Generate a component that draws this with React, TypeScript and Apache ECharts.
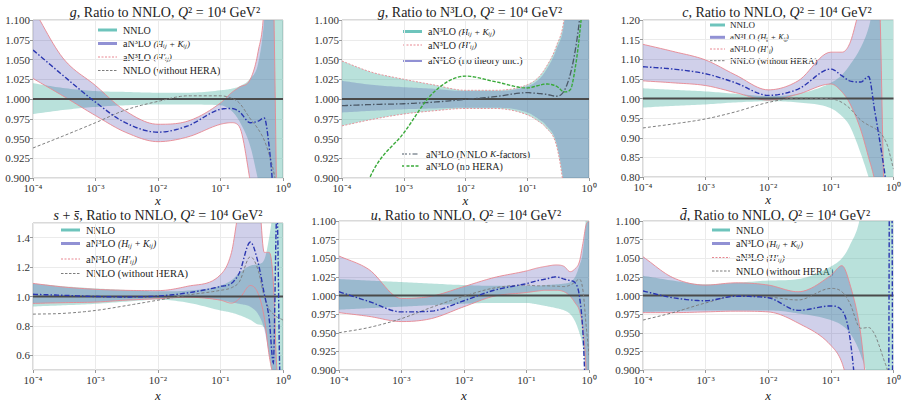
import React, { useEffect, useRef } from 'react';
import * as echarts from 'echarts';

const FONT = '"Liberation Serif", "Times New Roman", serif';

// shared x sample points (log scale)
const X = [1e-4, 3e-4, 1e-3, 3e-3, 1e-2, 3e-2, 0.1, 0.15, 0.2, 0.3, 0.4, 0.5, 0.6, 0.7, 0.8, 0.9, 1.0];
const xTickLabels = ['10⁻⁴', '10⁻³', '10⁻²', '10⁻¹', '10⁰'];
const REF_Y = 1;

// Panel 1: g, ratio to NNLO
const g1NnloLo = [0.981, 0.986, 0.990, 0.992, 0.993, 0.993, 0.992, 0.985, 0.972, 0.94, 0.897, 0.86, 0.8, 0.75, 0.7, 0.65, 0.6];
const g1NnloHi = [1.020, 1.014, 1.010, 1.009, 1.008, 1.008, 1.011, 1.013, 1.016, 1.026, 1.045, 1.1, 1.2, 1.3, 1.4, 1.5, 1.6];
const g1AnLo = [1.026, 1.004, 0.979, 0.958, 0.946, 0.952, 0.968, 0.970, 0.965, 0.895, 0.83, 0.76, 0.7, 0.65, 0.6, 0.55, 0.5];
const g1AnHi = [1.115, 1.052, 1.017, 0.985, 0.968, 0.972, 0.995, 1.008, 1.015, 1.025, 1.06, 1.12, 1.3, 1.15, 0.85, 0.6, 0.5];
const g1Cen = [1.062, 1.030, 0.996, 0.970, 0.958, 0.966, 0.987, 0.988, 0.984, 0.970, 0.972, 0.976, 0.94, 0.88, 0.8, 0.75, 0.7];
const g1NoHera = [0.938, 0.953, 0.970, 0.986, 0.997, 1.004, 1.004, 1.001, 0.995, 0.975, 0.962, 0.948, 0.93, 0.91, 0.885, 0.86, 0.83];

// Panel 2: g, ratio to N3LO
const g2HKLo = [0.966, 0.974, 0.981, 0.985, 0.988, 0.988, 0.980, 0.972, 0.964, 0.94, 0.88, 0.8, 0.7, 0.6, 0.5, 0.4, 0.3];
const g2HKHi = [1.048, 1.034, 1.025, 1.018, 1.011, 1.011, 1.018, 1.027, 1.040, 1.068, 1.105, 1.2, 1.3, 1.4, 1.5, 1.6, 1.7];
const g2NoThLo = [0.983, 0.985, 0.987, 0.988, 0.989, 0.989, 0.983, 0.975, 0.967, 0.943, 0.885, 0.8, 0.7, 0.6, 0.5, 0.4, 0.3];
const g2NoThHi = [1.023, 1.018, 1.015, 1.013, 1.010, 1.010, 1.016, 1.024, 1.036, 1.064, 1.1, 1.2, 1.3, 1.4, 1.5, 1.6, 1.7];
const g2KFac = [0.9915, 0.993, 0.994, 0.996, 0.9995, 1.003, 1.008, 1.007, 1.006, 1.0035, 1.011, 1.032, 1.062, 1.1, 1.15, 1.2, 1.3];
const g2NoHera = [0.80, 0.905, 0.957, 1.008, 1.029, 1.022, 1.014, 1.017, 1.019, 1.016, 1.009, 1.012, 1.04, 1.08, 1.13, 1.2, 1.3];

// Panel 3: c, ratio to NNLO
const c3NnloLo = [0.977, 0.981, 0.985, 0.990, 0.993, 0.990, 0.975, 0.955, 0.93, 0.86, 0.80, 0.75, 0.7, 0.6, 0.5, 0.4, 0.3];
const c3NnloHi = [1.026, 1.022, 1.018, 1.012, 1.006, 1.012, 1.04, 1.06, 1.085, 1.13, 1.18, 1.25, 1.3, 1.4, 1.5, 1.6, 1.7];
const c3AnLo = [1.045, 1.040, 1.033, 1.015, 0.996, 1.011, 1.037, 1.017, 0.988, 0.92, 0.85, 0.79, 0.7, 0.6, 0.5, 0.4, 0.3];
const c3AnHi = [1.138, 1.12, 1.098, 1.06, 1.022, 1.045, 1.118, 1.118, 1.14, 1.24, 1.3, 1.35, 1.25, 0.78, 0.6, 0.5, 0.4];
const c3Cen = [1.081, 1.075, 1.063, 1.04, 1.008, 1.024, 1.075, 1.058, 1.045, 1.042, 1.056, 0.97, 0.894, 0.826, 0.76, 0.7, 0.65];
const c3NoHera = [0.925, 0.935, 0.948, 0.966, 0.99, 1.001, 0.999, 0.99, 0.975, 0.945, 0.932, 0.924, 0.915, 0.9, 0.88, 0.85, 0.82];

// Panel 4: s + sbar, ratio to NNLO
const s4NnloLo = [0.932, 0.94, 0.95, 0.965, 0.978, 0.958, 0.905, 0.89, 0.873, 0.841, 0.81, 0.79, 0.6, 0.4, 0.3, 0.2, 0.1];
const s4NnloHi = [1.089, 1.07, 1.055, 1.045, 1.035, 1.04, 1.074, 1.11, 1.16, 1.21, 1.22, 1.25, 1.4, 1.6, 1.8, 2.0, 2.0];
const s4AnLo = [0.953, 0.958, 0.962, 0.975, 0.985, 0.995, 0.975, 0.96, 0.95, 0.93, 0.88, 0.78, 0.6, 0.45, 0.3, 0.2, 0.1];
const s4AnHi = [1.089, 1.065, 1.049, 1.042, 1.04, 1.07, 1.148, 1.3, 1.6, 1.7, 1.7, 1.3, 1.3, 1.1, 0.5, 0.4, 0.3];
const s4HpLo = [0.953, 0.958, 0.962, 0.975, 0.985, 0.995, 0.975, 0.955, 0.985, 1.075, 1.02, 0.86, 0.6, 0.45, 0.3, 0.2, 0.1];
const s4Cen = [1.015, 1.008, 1.0, 0.997, 1.003, 1.025, 1.068, 1.09, 1.16, 1.37, 1.23, 1.02, 0.85, 0.55, 1.6, 0.4, 0.3];
const s4NoHera = [0.88, 0.885, 0.905, 0.937, 0.975, 1.01, 1.042, 1.06, 1.1, 1.27, 1.18, 1.0, 0.915, 0.88, 0.86, 0.85, 0.84];

// Panel 5: u, ratio to NNLO
const u5NnloLo = [0.981, 0.983, 0.985, 0.987, 0.989, 0.99, 0.99, 0.988, 0.986, 0.983, 0.98, 0.975, 0.965, 0.95, 0.93, 0.88, 0.8];
const u5NnloHi = [1.022, 1.020, 1.018, 1.016, 1.014, 1.013, 1.013, 1.013, 1.014, 1.015, 1.016, 1.018, 1.025, 1.04, 1.06, 1.12, 1.3];
const u5AnLo = [0.977, 0.972, 0.965, 0.969, 0.985, 0.999, 1.004, 1.006, 1.007, 1.007, 1.005, 0.999, 0.99, 0.98, 0.955, 0.9, 0.8];
const u5AnHi = [1.053, 1.035, 0.996, 0.999, 1.012, 1.024, 1.033, 1.037, 1.039, 1.041, 1.039, 1.032, 1.036, 1.045, 1.07, 1.095, 1.1];
const u5Cen = [1.005, 0.992, 0.978, 0.979, 0.993, 1.007, 1.016, 1.02, 1.022, 1.025, 1.022, 1.02, 1.017, 1.0, 0.95, 0.85, 0.8];
const u5NoHera = [0.95, 0.957, 0.969, 0.984, 0.999, 1.01, 1.014, 1.013, 1.013, 1.0125, 1.012, 1.014, 1.018, 1.022, 1.007, 0.96, 0.92];

// Panel 6: dbar, ratio to NNLO
const d6NnloLo = [0.978, 0.979, 0.98, 0.98, 0.98, 0.976, 0.967, 0.96, 0.95, 0.92, 0.88, 0.8, 0.7, 0.6, 0.5, 0.4, 0.3];
const d6NnloHi = [1.0265, 1.02, 1.015, 1.017, 1.02, 1.022, 1.039, 1.05, 1.067, 1.11, 1.2, 1.3, 1.4, 1.5, 1.6, 1.7, 1.8];
const d6AnLo = [0.977, 0.977, 0.978, 0.979, 0.978, 0.963, 0.933, 0.91, 0.87, 0.8, 0.7, 0.6, 0.5, 0.4, 0.3, 0.2, 0.1];
const d6AnHi = [1.052, 1.024, 1.014, 1.017, 1.014, 1.005, 1.027, 1.04, 1.016, 0.948, 0.85, 0.8, 0.7, 0.6, 0.5, 0.4, 0.3];
const d6Cen = [1.006, 0.997, 0.993, 0.999, 0.997, 0.98, 0.986, 0.98, 0.945, 0.8, 0.7, 0.65, 0.6, 0.55, 0.5, 1.5, 0.5];
const d6NoHera = [0.967, 0.977, 0.99, 0.999, 0.998, 0.994, 1.0095, 1.005, 0.99, 0.956, 0.957, 0.948, 0.931, 0.914, 0.9, 0.88, 0.86];

// colours / styles
const TEAL = 'rgba(80,180,165,0.40)';
const PURPLE = 'rgba(50,50,165,0.23)';
const PINK = 'rgb(232,135,145)';
const BLUE = '#2a36b0';
const GRAY = '#7d7d7d';
const GREEN = '#3aaa3a';
const KGRAY = '#4b5866';

const SW: Record<string, any> = {
  teal: { stroke: 'rgb(110,196,188)', lineWidth: 3 },
  purple: { stroke: 'rgb(145,145,212)', lineWidth: 3 },
  pink: { stroke: PINK, lineWidth: 1, lineDash: [2, 1.5] },
  gray: { stroke: GRAY, lineWidth: 1, lineDash: [2.5, 1.5] },
  kgray: { stroke: KGRAY, lineWidth: 1.2, lineDash: [5, 2, 1.5, 2] },
  green: { stroke: GREEN, lineWidth: 1.3, lineDash: [3, 1.5] },
};

const L_NNLO = 'NNLO';
const L_HK = 'aN³LO {i|(Hᵢⱼ + Kᵢⱼ)}';
const L_HP = 'aN³LO {i|(H′ᵢⱼ)}';
const L_NOHERA = 'NNLO (without HERA)';

const stdLegend = (y: number[], x1: number, x2: number, tx: number, fs: number) => ({
  x1, x2, tx, fs,
  items: [
    { y: y[0], kind: 'teal', text: L_NNLO },
    { y: y[1], kind: 'purple', text: L_HK },
    { y: y[2], kind: 'pink', text: L_HP },
    { y: y[3], kind: 'gray', text: L_NOHERA },
  ],
});

const panels: any[] = [
  {
    grid: { left: 33, top: 20, width: 250, height: 158 }, nameGap: 15,
    y: { min: 0.9, max: 1.1, interval: 0.025, dec: 3 },
    title: { text: '{i|g}, Ratio to NNLO, {i|Q}² = 10⁴ GeV²', x: 165, y: 12 },
    bands: [[g1NnloLo, g1NnloHi, TEAL], [g1AnLo, g1AnHi, PURPLE]],
    edges: [g1AnLo, g1AnHi],
    lines: [[g1NoHera, GRAY, 1, [3, 2]], [g1Cen, BLUE, 1.4, [5, 2, 1.5, 2]]],
    legends: [stdLegend([30, 43.5, 57, 70.5], 98, 117, 123, 10)],
  },
  {
    grid: { left: 342, top: 20, width: 247, height: 158 }, nameGap: 15,
    y: { min: 0.9, max: 1.1, interval: 0.025, dec: 3 },
    title: { text: '{i|g}, Ratio to N³LO, {i|Q}² = 10⁴ GeV²', x: 470, y: 12 },
    bands: [[g2HKLo, g2HKHi, TEAL], [g2NoThLo, g2NoThHi, PURPLE]],
    edges: [g2HKLo, g2HKHi],
    edgeDash: [2, 1.5],
    lines: [[g2KFac, KGRAY, 1.3, [6, 2, 1.5, 2]], [g2NoHera, GREEN, 1.4, [3.5, 1.5]]],
    legends: [
      {
        x1: 403, x2: 422, tx: 428, fs: 10,
        items: [
          { y: 31.5, kind: 'teal', text: L_HK },
          { y: 45, kind: 'pink', text: L_HP },
          { y: 60.5, kind: 'purple', text: 'aN³LO (no theory unc.)' },
        ],
      },
      {
        x1: 402, x2: 419, tx: 426, fs: 10,
        items: [
          { y: 154, kind: 'kgray', text: 'aN³LO (NNLO {i|K}-factors)' },
          { y: 166, kind: 'green', text: 'aN³LO (no HERA)' },
        ],
      },
    ],
  },
  {
    grid: { left: 643, top: 20, width: 252, height: 157 }, nameGap: 15,
    y: { min: 0.8, max: 1.2, interval: 0.05, dec: 2 },
    title: { text: '{i|c}, Ratio to NNLO, {i|Q}² = 10⁴ GeV²', x: 777, y: 12 },
    bands: [[c3NnloLo, c3NnloHi, TEAL], [c3AnLo, c3AnHi, PURPLE]],
    edges: [c3AnLo, c3AnHi],
    lines: [[c3NoHera, GRAY, 1, [3, 2]], [c3Cen, BLUE, 1.4, [5, 2, 1.5, 2]]],
    legends: [stdLegend([25, 37.3, 49, 60.7], 710, 725, 730, 9)],
  },
  {
    grid: { left: 33, top: 223, width: 250, height: 155 }, nameGap: 19,
    y: { min: 0.5, max: 1.5, dec: 1, split: 5 },
    title: { text: '{i|s} + {i|s̄}, Ratio to NNLO, {i|Q}² = 10⁴ GeV²', x: 158, y: 215.5 },
    bands: [[s4NnloLo, s4NnloHi, TEAL], [s4AnLo, s4AnHi, PURPLE]],
    edges: [s4HpLo, s4AnHi],
    lines: [[s4NoHera, GRAY, 1, [3, 2]], [s4Cen, BLUE, 1.4, [5, 2, 1.5, 2]]],
    legends: [stdLegend([230, 243.5, 259, 273.5], 61, 80, 86, 10.5)],
  },
  {
    grid: { left: 339, top: 221, width: 250, height: 157 }, nameGap: 19,
    y: { min: 0.9, max: 1.1, interval: 0.025, dec: 3 },
    title: { text: '{i|u}, Ratio to NNLO, {i|Q}² = 10⁴ GeV²', x: 466, y: 215 },
    bands: [[u5NnloLo, u5NnloHi, TEAL], [u5AnLo, u5AnHi, PURPLE]],
    edges: [u5AnLo, u5AnHi],
    lines: [[u5NoHera, GRAY, 1, [3, 2]], [u5Cen, BLUE, 1.4, [5, 2, 1.5, 2]]],
    legends: [],
  },
  {
    grid: { left: 643, top: 221, width: 252, height: 157 }, nameGap: 19,
    y: { min: 0.9, max: 1.1, interval: 0.025, dec: 3 },
    title: { text: '{i|d̄}, Ratio to NNLO, {i|Q}² = 10⁴ GeV²', x: 775, y: 215 },
    bands: [[d6NnloLo, d6NnloHi, TEAL], [d6AnLo, d6AnHi, PURPLE]],
    edges: [d6AnLo, d6AnHi],
    lines: [[d6NoHera, GRAY, 1, [3, 2]], [d6Cen, BLUE, 1.4, [5, 2, 1.5, 2]]],
    legends: [stdLegend([230, 243.5, 257.5, 271], 712, 730, 736, 10)],
  },
];

// monotone cubic interpolation in pixel space (drawing only)
function monotone(pts: number[][], steps = 12): number[][] {
  const n = pts.length;
  const xs = pts.map((p) => p[0]);
  const ys = pts.map((p) => p[1]);
  const d: number[] = [];
  const m: number[] = new Array(n).fill(0);
  for (let i = 0; i < n - 1; i++) d.push((ys[i + 1] - ys[i]) / (xs[i + 1] - xs[i]));
  m[0] = d[0];
  m[n - 1] = d[n - 2];
  for (let i = 1; i < n - 1; i++) m[i] = d[i - 1] * d[i] <= 0 ? 0 : (d[i - 1] + d[i]) / 2;
  for (let i = 0; i < n - 1; i++) {
    if (d[i] === 0) { m[i] = 0; m[i + 1] = 0; continue; }
    const a = m[i] / d[i];
    const b = m[i + 1] / d[i];
    const s = a * a + b * b;
    if (s > 9) {
      const t = 3 / Math.sqrt(s);
      m[i] = t * a * d[i];
      m[i + 1] = t * b * d[i];
    }
  }
  const out: number[][] = [];
  for (let i = 0; i < n - 1; i++) {
    const h = xs[i + 1] - xs[i];
    for (let s = 0; s < steps; s++) {
      const t = s / steps;
      const t2 = t * t, t3 = t2 * t;
      const h00 = 2 * t3 - 3 * t2 + 1, h10 = t3 - 2 * t2 + t, h01 = -2 * t3 + 3 * t2, h11 = t3 - t2;
      out.push([xs[i] + h * t, h00 * ys[i] + h10 * h * m[i] + h01 * ys[i + 1] + h11 * h * m[i + 1]]);
    }
  }
  out.push([xs[n - 1], ys[n - 1]]);
  return out;
}

function curve(api: any, ys: number[]) {
  return monotone(X.map((x, k) => api.coord([x, ys[k]])));
}

function clipOf(params: any) {
  const c = params.coordSys;
  return { type: 'rect', shape: { x: c.x, y: c.y, width: c.width, height: c.height } };
}

function bandSeries(gi: number, lo: number[], hi: number[], fill: string) {
  return {
    type: 'custom', xAxisIndex: gi, yAxisIndex: gi, silent: true, clip: true, z: 2,
    data: X.map((x, k) => [x, lo[k], hi[k]]),
    encode: { x: 0, y: [1, 2] },
    renderItem: (params: any, api: any) => {
      if (params.dataIndex !== 0) return null;
      const up = curve(api, hi);
      const dn = curve(api, lo).reverse();
      return { type: 'polygon', shape: { points: up.concat(dn) }, style: { fill }, clipPath: clipOf(params) };
    },
  };
}

function curveSeries(gi: number, ys: number[], stroke: string, lineWidth: number, lineDash: any, z = 3) {
  return {
    type: 'custom', xAxisIndex: gi, yAxisIndex: gi, silent: true, clip: true, z,
    data: X.map((x, k) => [x, ys[k]]),
    encode: { x: 0, y: 1 },
    renderItem: (params: any, api: any) => {
      if (params.dataIndex !== 0) return null;
      return {
        type: 'polyline',
        shape: { points: curve(api, ys) },
        style: { stroke, lineWidth, lineDash: lineDash || null, fill: null },
        clipPath: clipOf(params),
      };
    },
  };
}

function buildOption() {
  const grids: any[] = [];
  const xAxes: any[] = [];
  const yAxes: any[] = [];
  const series: any[] = [];
  const graphics: any[] = [];

  panels.forEach((p, gi) => {
    grids.push({ ...p.grid, show: true, borderColor: '#b4b4b4', borderWidth: 1, containLabel: false });
    xAxes.push({
      type: 'log', gridIndex: gi, min: 1e-4, max: 1, logBase: 10,
      name: 'x', nameLocation: 'middle', nameGap: p.nameGap,
      nameTextStyle: { fontFamily: FONT, fontStyle: 'italic', fontSize: 13, color: '#222', lineHeight: 13 },
      axisLine: { show: false },
      axisTick: { show: true, length: 3, lineStyle: { color: '#999' } },
      axisLabel: {
        fontFamily: FONT, fontSize: 11, color: '#333', margin: 4,
        formatter: (v: number) => xTickLabels[Math.round(Math.log10(v)) + 4],
      },
      splitLine: { show: true, lineStyle: { color: '#ebebeb', width: 1 } },
    });
    const ya: any = {
      type: 'value', gridIndex: gi, min: p.y.min, max: p.y.max,
      axisLine: { show: false },
      axisTick: { show: true, length: 3, lineStyle: { color: '#999' } },
      axisLabel: {
        fontFamily: FONT, fontSize: 11, color: '#333', margin: 3,
        formatter: (v: number) => v.toFixed(p.y.dec),
      },
      splitLine: { show: true, lineStyle: { color: '#ebebeb', width: 1 } },
    };
    if (p.y.interval) ya.interval = p.y.interval;
    else {
      ya.splitNumber = p.y.split;
      ya.axisLabel.showMinLabel = false;
      ya.axisLabel.showMaxLabel = false;
    }
    yAxes.push(ya);

    p.bands.forEach((b: any) => series.push(bandSeries(gi, b[0], b[1], b[2])));
    p.edges.forEach((e: number[]) => series.push(curveSeries(gi, e, PINK, 0.9, p.edgeDash || null, 3)));
    series.push({
      type: 'line', xAxisIndex: gi, yAxisIndex: gi, silent: true, symbol: 'none', z: 4,
      data: [[X[0], REF_Y], [X[X.length - 1], REF_Y]],
      lineStyle: { color: '#4a4a4a', width: 1.8 },
    });
    p.lines.forEach((l: any) => series.push(curveSeries(gi, l[0], l[1], l[2], l[3], 5)));

    graphics.push({
      type: 'text', x: p.title.x, y: p.title.y, silent: true,
      style: {
        text: p.title.text, align: 'center', verticalAlign: 'middle', textAlign: 'center',
        fontFamily: FONT, fontSize: 14, lineHeight: 15, fill: '#222',
        rich: { i: { fontFamily: FONT, fontSize: 14, lineHeight: 15, fontStyle: 'italic', fill: '#222', color: '#222' } },
      },
    });
    p.legends.forEach((lg: any) => {
      lg.items.forEach((it: any) => {
        graphics.push({
          type: 'line', silent: true,
          shape: { x1: lg.x1, y1: it.y, x2: lg.x2, y2: it.y },
          style: { ...SW[it.kind] },
        });
        graphics.push({
          type: 'text', x: lg.tx, y: it.y, silent: true,
          style: {
            text: it.text, align: 'left', verticalAlign: 'middle', textAlign: 'left',
            fontFamily: FONT, fontSize: lg.fs, lineHeight: lg.fs + 1, fill: '#222',
            rich: { i: { fontFamily: FONT, fontSize: lg.fs * 0.92, lineHeight: lg.fs + 1, fontStyle: 'italic', fill: '#222', color: '#222' } },
          },
        });
      });
    });
  });

  return {
    animation: false,
    backgroundColor: '#fff',
    grid: grids,
    xAxis: xAxes,
    yAxis: yAxes,
    series,
    graphic: { elements: graphics },
  };
}

export default function App() {
  const ref = useRef<HTMLDivElement>(null);
  useEffect(() => {
    document.body.style.margin = '0';
    if (!ref.current) return;
    const chart = echarts.init(ref.current, null, { renderer: 'svg' });
    chart.setOption(buildOption() as any);
    return () => chart.dispose();
  }, []);
  return <div ref={ref} style={{ width: 904, height: 403 }} />;
}
